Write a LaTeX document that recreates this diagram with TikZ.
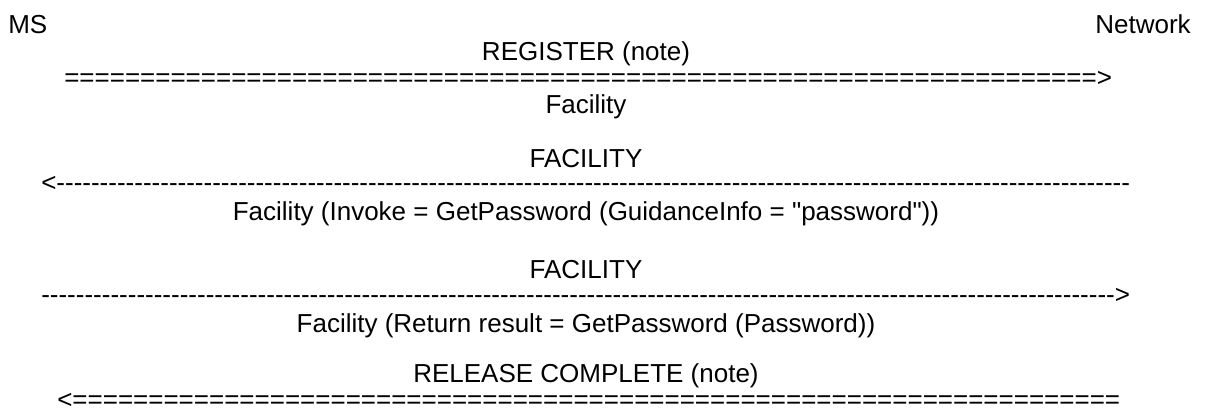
\documentclass[tikz,border=0pt]{standalone}
\usepackage{fontspec}
\newfontfamily\arialfont{Liberation Sans}
% a row of n copies of one character
\newcommand\charrow[2]{\foreach\k in {1,...,#1}{#2\kern0pt}}

\begin{document}
\begin{tikzpicture}[x=0.75pt,y=-0.75pt,
  msg/.style={font=\arialfont\fontsize{19.5}{22}\selectfont,inner sep=0pt,anchor=base}]
\useasboundingbox (0,0) rectangle (1207,417);
\node[msg,anchor=base west] (ms) at (8,34) {MS};
\node[msg,anchor=base east] (net) at (1191,34) {Network};
%REGISTER
\node[msg] (reg) at (586,60.5) {REGISTER (note)};
\node[msg,anchor=base west] (regarr) at (64,87) {\charrow{68}{=}>};
\node[msg] (regie) at (586,114) {Facility};
%FACILITY down
\node[msg] (fac1) at (586,167.5) {FACILITY};
\node[msg,anchor=base west] (fac1arr) at (41,192) {<\charrow{124}{-}};
\node[msg] (fac1ie) at (586,221) {Facility (Invoke = GetPassword (GuidanceInfo = "password"))};
%FACILITY up
\node[msg] (fac2) at (586,278.5) {FACILITY};
\node[msg,anchor=base west] (fac2arr) at (41,303) {\charrow{124}{-}>};
\node[msg] (fac2ie) at (586,332) {Facility (Return result = GetPassword (Password))};
%RELEASE COMPLETE
\node[msg] (rel) at (586,382.5) {RELEASE COMPLETE (note)};
\node[msg,anchor=base west] (relarr) at (57,408) {<\charrow{69}{=}};
\end{tikzpicture}
\end{document}
